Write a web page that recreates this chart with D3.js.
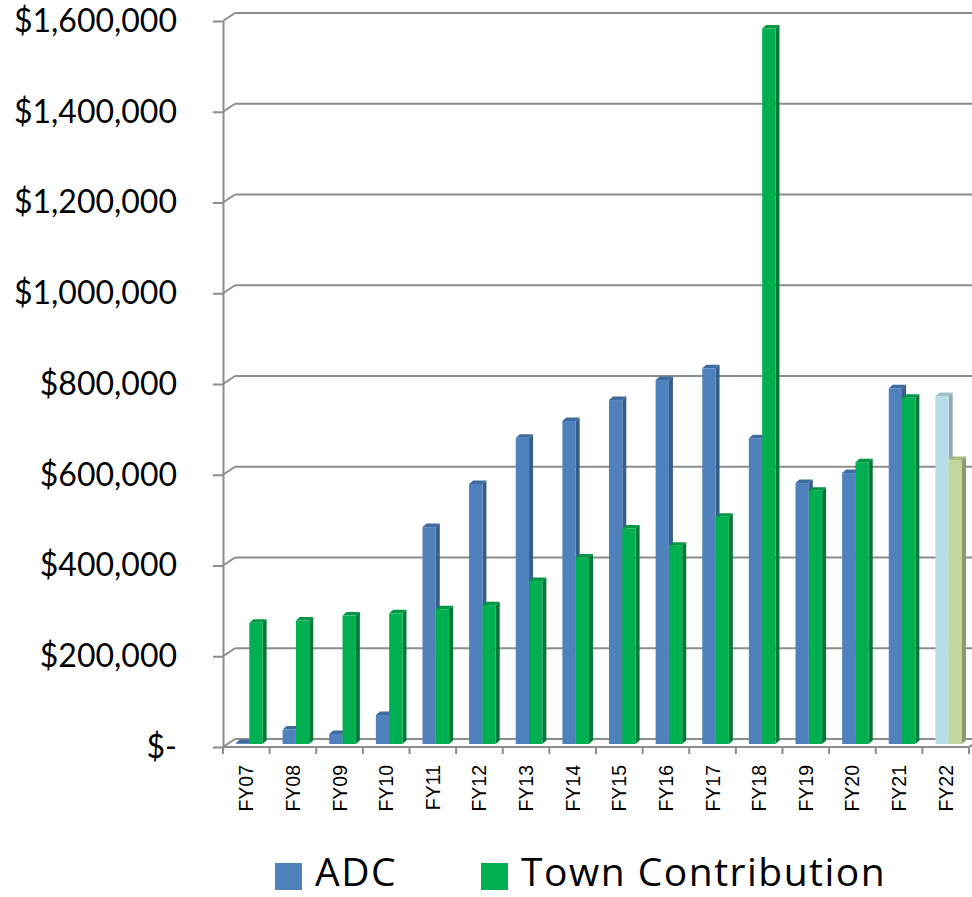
<!DOCTYPE html>
<html>
<head>
<meta charset="utf-8">
<script src="https://cdn.jsdelivr.net/npm/d3@7"></script>
<style>
  html, body { margin: 0; padding: 0; background: #ffffff; }
  svg { display: block; }
</style>
</head>
<body>
<svg id="chart" width="972" height="897"></svg>
<script>
// Fiscal years and contributions
const categories = ["FY07","FY08","FY09","FY10","FY11","FY12","FY13","FY14","FY15","FY16","FY17","FY18","FY19","FY20","FY21","FY22"];
const adcValues  = [2000, 32000, 22000, 64000, 478000, 573000, 675000, 712000, 758000, 802000, 828000, 674000, 575000, 597000, 784000, 767000];
const townValues = [267000, 272000, 283000, 288000, 297000, 306000, 359000, 411000, 475000, 437000, 501000, 1577000, 558000, 621000, 763000, 626000];
const yTicks = [0, 200000, 400000, 600000, 800000, 1000000, 1200000, 1400000, 1600000];
const seriesNames = ["ADC", "Town Contribution"];
const projectedYear = "FY22";

const svg = d3.select("#chart");

// Plot geometry (3-D box: front plane, bar plane, back wall)
const left = 223, right = 969;
const frontBase = 747, barBase = 744, backBase = 739;
const depthX = 12;                // back wall shift to the right
const plotH = 726;                // height of the value range
const barDX = 4, barDY = 3.5;     // bar depth

const x = d3.scaleBand().domain(categories).range([left, right]).paddingInner(0).paddingOuter(0);
const inner = d3.scaleBand().domain(seriesNames).range([13, 13 + 26.6]);

const yFront = d3.scaleLinear().domain([0, 1600000]).range([frontBase, frontBase - plotH]);
const yBar   = d3.scaleLinear().domain([0, 1600000]).range([barBase, barBase - plotH]);
const yBack  = d3.scaleLinear().domain([0, 1600000]).range([backBase, backBase - plotH]);

const gridColor = "#8c8c8c";

// Back wall gridlines with the diagonal to the front axis
const grid = svg.append("g");
yTicks.forEach(v => {
  grid.append("line")
    .attr("x1", left + depthX).attr("x2", 972)
    .attr("y1", yBack(v)).attr("y2", yBack(v))
    .attr("stroke", gridColor).attr("stroke-width", 2);
  grid.append("line")
    .attr("x1", left).attr("y1", yFront(v))
    .attr("x2", left + depthX).attr("y2", yBack(v))
    .attr("stroke", gridColor).attr("stroke-width", 2);
});

// Floor front edge and right diagonal
grid.append("line")
  .attr("x1", left).attr("x2", right)
  .attr("y1", frontBase).attr("y2", frontBase)
  .attr("stroke", gridColor).attr("stroke-width", 2);
grid.append("line")
  .attr("x1", right).attr("y1", frontBase)
  .attr("x2", right + depthX).attr("y2", backBase)
  .attr("stroke", gridColor).attr("stroke-width", 2);

// Y axis on the front plane
const fmt = d3.format(",.0f");
const yAxis = d3.axisLeft(yFront)
  .tickValues(yTicks)
  .tickSize(10)
  .tickSizeOuter(0)
  .tickPadding(36)
  .tickFormat(v => v === 0 ? "$-" : "$" + fmt(v));
const yg = svg.append("g").attr("transform", `translate(${left},0)`).call(yAxis);
yg.select(".domain").attr("stroke", gridColor).attr("stroke-width", 2);
yg.selectAll(".tick line").attr("stroke", gridColor).attr("stroke-width", 2);
yg.selectAll(".tick text")
  .attr("fill", "#000")
  .style("font-family", "Lato, 'Open Sans', sans-serif")
  .style("font-size", "32px");

// X axis ticks at category boundaries
const xTickPos = categories.map(c => x(c)).concat([right]);
svg.append("g").selectAll("line").data(xTickPos).join("line")
  .attr("x1", d => d).attr("x2", d => d)
  .attr("y1", frontBase).attr("y2", frontBase + 7)
  .attr("stroke", gridColor).attr("stroke-width", 2);

// Category labels, rotated
svg.append("g").selectAll("text").data(categories).join("text")
  .attr("transform", d => `translate(${x(d) + x.bandwidth() / 2 + 7},765) rotate(-90)`)
  .attr("text-anchor", "end")
  .style("font-family", "'Liberation Sans', Arial, sans-serif")
  .style("font-size", "19.5px")
  .attr("fill", "#000")
  .text(d => d);

// Palettes: front / side / top faces
const palettes = {
  "ADC":               { front: "#4f81bd", side: "#385d8a", top: "#3f6a9f" },
  "Town Contribution": { front: "#00b050", side: "#007a37", top: "#009644" }
};
const projectedPalettes = {
  "ADC":               { front: "#b7dee8", side: "#8ea9b0", top: "#9fbfc8" },
  "Town Contribution": { front: "#c3d69b", side: "#8b9a6b", top: "#a7b97f" }
};

const bars = [];
categories.forEach((c, i) => {
  bars.push({ cat: c, series: "ADC", value: adcValues[i] });
  bars.push({ cat: c, series: "Town Contribution", value: townValues[i] });
});

const barG = svg.append("g");
bars.forEach(b => {
  const pal = (b.cat === projectedYear ? projectedPalettes : palettes)[b.series];
  const bw = inner.bandwidth();
  const x0 = x(b.cat) + inner(b.series);
  const x1 = x0 + bw;
  const yT = yBar(b.value);
  const yB = yBar(0);
  // side face
  barG.append("polygon")
    .attr("points", [[x1, yT], [x1 + barDX, yT - barDY], [x1 + barDX, yB - barDY], [x1, yB]].map(p => p.join(",")).join(" "))
    .attr("fill", pal.side);
  // top face
  barG.append("polygon")
    .attr("points", [[x0, yT], [x0 + barDX, yT - barDY], [x1 + barDX, yT - barDY], [x1, yT]].map(p => p.join(",")).join(" "))
    .attr("fill", pal.top);
  // front face
  barG.append("rect")
    .attr("x", x0).attr("y", yT)
    .attr("width", bw).attr("height", Math.max(0, yB - yT))
    .attr("fill", pal.front);
});

// Legend
const legend = svg.append("g");
const legendItems = [
  { name: "ADC", sx: 275, tx: 315 },
  { name: "Town Contribution", sx: 481, tx: 521 }
];
legendItems.forEach(it => {
  legend.append("rect")
    .attr("x", it.sx).attr("y", 863).attr("width", 27).attr("height", 27)
    .attr("fill", palettes[it.name].front);
  legend.append("text")
    .attr("x", it.tx).attr("y", 886)
    .style("font-family", "'Open Sans', Lato, sans-serif")
    .style("font-size", "39px")
    .style("letter-spacing", "1.5px")
    .attr("fill", "#000")
    .text(it.name);
});
</script>
</body>
</html>
